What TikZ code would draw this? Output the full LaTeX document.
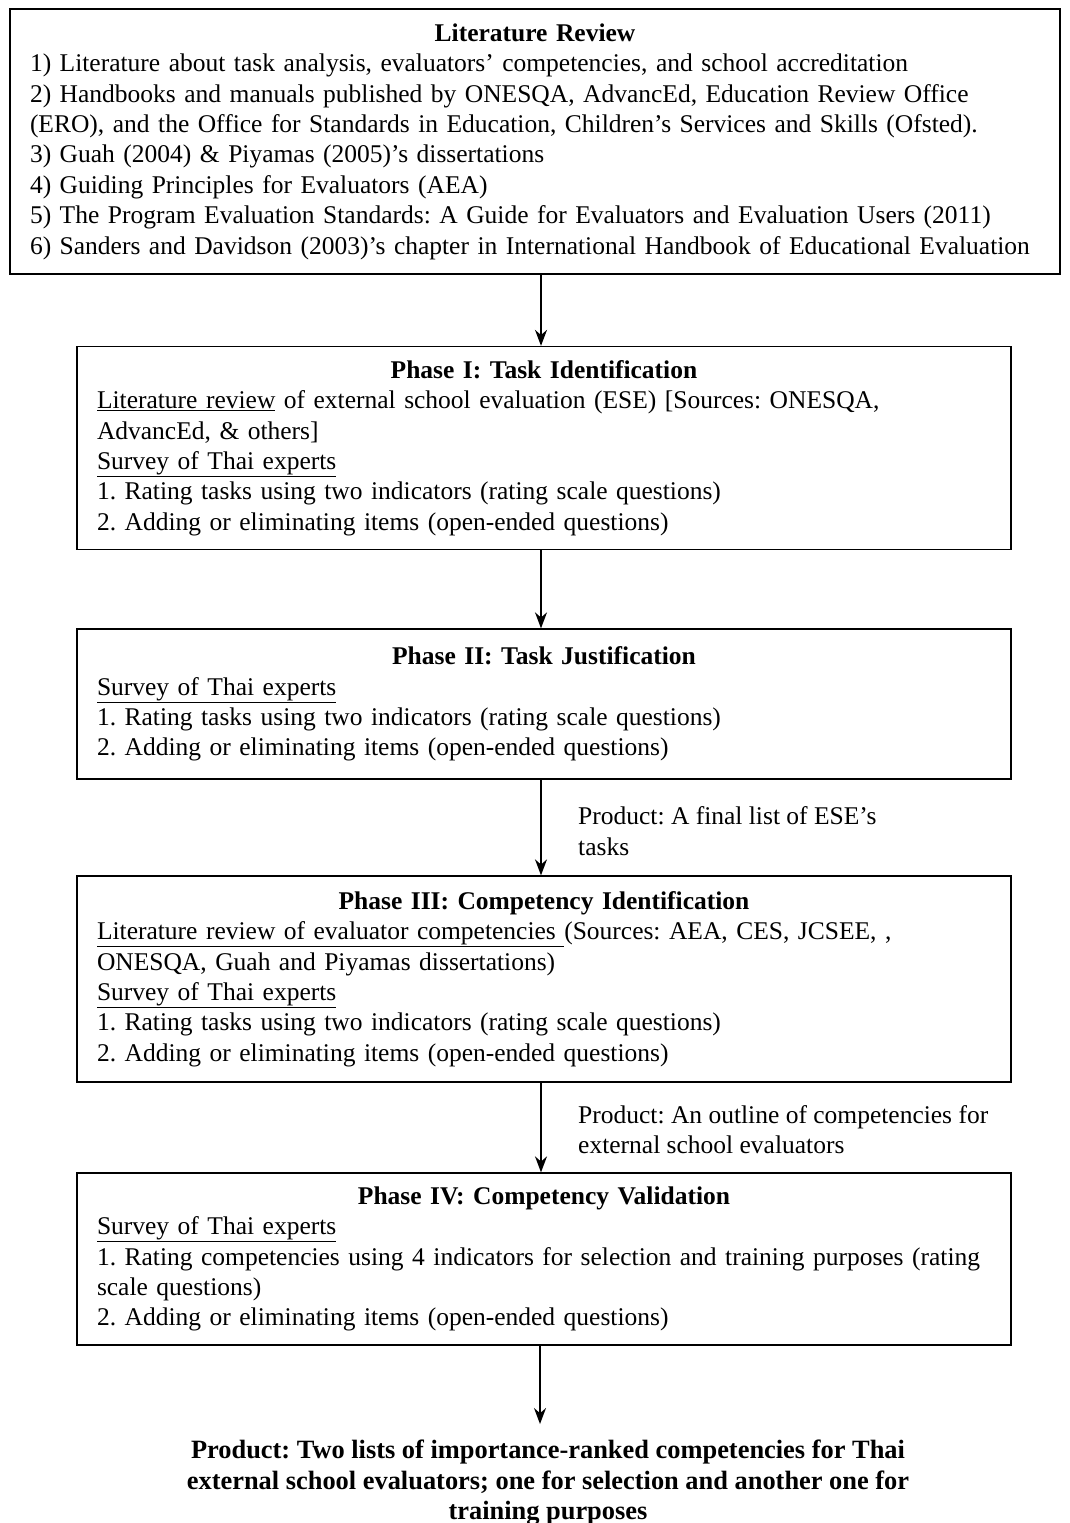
\documentclass[tikz,border=0pt]{standalone}
\usepackage{fontspec}
\setmainfont{Liberation Serif}
\usetikzlibrary{arrows.meta}
\frenchspacing
\hyphenpenalty=10000
\tikzset{
  box/.style={draw, line width=1.3pt, align=left, inner xsep=20pt, inner ysep=0pt,
    font=\fontsize{25.5pt}{30.4pt}\selectfont\frenchspacing},
  lbl/.style={align=left, inner sep=0pt, font=\fontsize{25.5pt}{30.4pt}\selectfont\frenchspacing},
  fin/.style={align=center, inner sep=0pt, font=\fontsize{26.4pt}{30.4pt}\selectfont\bfseries\frenchspacing},
  arr/.style={line width=1.6pt, -{Stealth[length=16pt,width=12pt]}}
}
\newcommand\hdr[1]{\makebox[\hsize]{\bfseries #1}}
\begin{document}
\begin{tikzpicture}[x=1pt,y=-1pt]
\useasboundingbox (0,0) rectangle (1070,1523);
\coordinate (ax) at (541,0);
\node[box, text width=1010pt, minimum width=1050pt, minimum height=265pt] (lit) at (535,141.5) {%
\hdr{Literature Review}\\
1) Literature about task analysis, evaluators’ competencies, and school accreditation\\
2) Handbooks and manuals published by ONESQA, AdvancEd, Education Review Office\\
(ERO), and the Office for Standards in Education, Children’s Services and Skills (Ofsted).\\
3) Guah (2004) \& Piyamas (2005)’s dissertations\\
4) Guiding Principles for Evaluators (AEA)\\
5) The Program Evaluation Standards: A Guide for Evaluators and Evaluation Users (2011)\\
6) Sanders and Davidson (2003)’s chapter in International Handbook of Educational Evaluation};

\node[box, text width=894pt, minimum width=934pt, minimum height=203pt] (p1) at (544,448) {%
\hdr{Phase I: Task Identification}\\
\underline{Literature review} of external school evaluation (ESE) [Sources: ONESQA,\\
AdvancEd, \& others]\\
\underline{Survey of Thai experts}\\
1. Rating tasks using two indicators (rating scale questions)\\
2. Adding or eliminating items (open-ended questions)};

\node[box, text width=894pt, minimum width=934pt, minimum height=150pt] (p2) at (544,704) {%
\hdr{Phase II: Task Justification}\\
\underline{Survey of Thai experts}\\
1. Rating tasks using two indicators (rating scale questions)\\
2. Adding or eliminating items (open-ended questions)};

\node[box, text width=894pt, minimum width=934pt, minimum height=206pt] (p3) at (544,979) {%
\hdr{Phase III: Competency Identification}\\
\underline{Literature review of evaluator competencies }(Sources: AEA, CES, JCSEE, ,\\
ONESQA, Guah and Piyamas dissertations)\\
\underline{Survey of Thai experts}\\
1. Rating tasks using two indicators (rating scale questions)\\
2. Adding or eliminating items (open-ended questions)};

\node[box, text width=894pt, minimum width=934pt, minimum height=172pt] (p4) at (544,1259) {%
\hdr{Phase IV: Competency Validation}\\
\underline{Survey of Thai experts}\\
1. Rating competencies using 4 indicators for selection and training purposes (rating\\
scale questions)\\
2. Adding or eliminating items (open-ended questions)};

\node[lbl, anchor=west] (l1) at (578,831) {Product: A final list of ESE’s\\tasks};
\node[lbl, anchor=west] (l2) at (578,1129.5) {Product: An outline of competencies for\\external school evaluators};

\node[fin, anchor=north] (fin) at (548,1440) {Product: Two lists of importance-ranked competencies for Thai\\
external school evaluators; one for selection and another one for\\
training purposes};

\draw[arr] (lit.south -| ax) -- (p1.north -| ax);
\draw[arr] (p1.south -| ax) -- (p2.north -| ax);
\draw[arr] (p2.south -| ax) -- (p3.north -| ax);
\draw[arr] (p3.south -| ax) -- (p4.north -| ax);
\coordinate (bx) at (540,0);
\draw[arr] (p4.south -| bx) -- ([yshift=16pt]fin.north -| bx);
\end{tikzpicture}
\end{document}
